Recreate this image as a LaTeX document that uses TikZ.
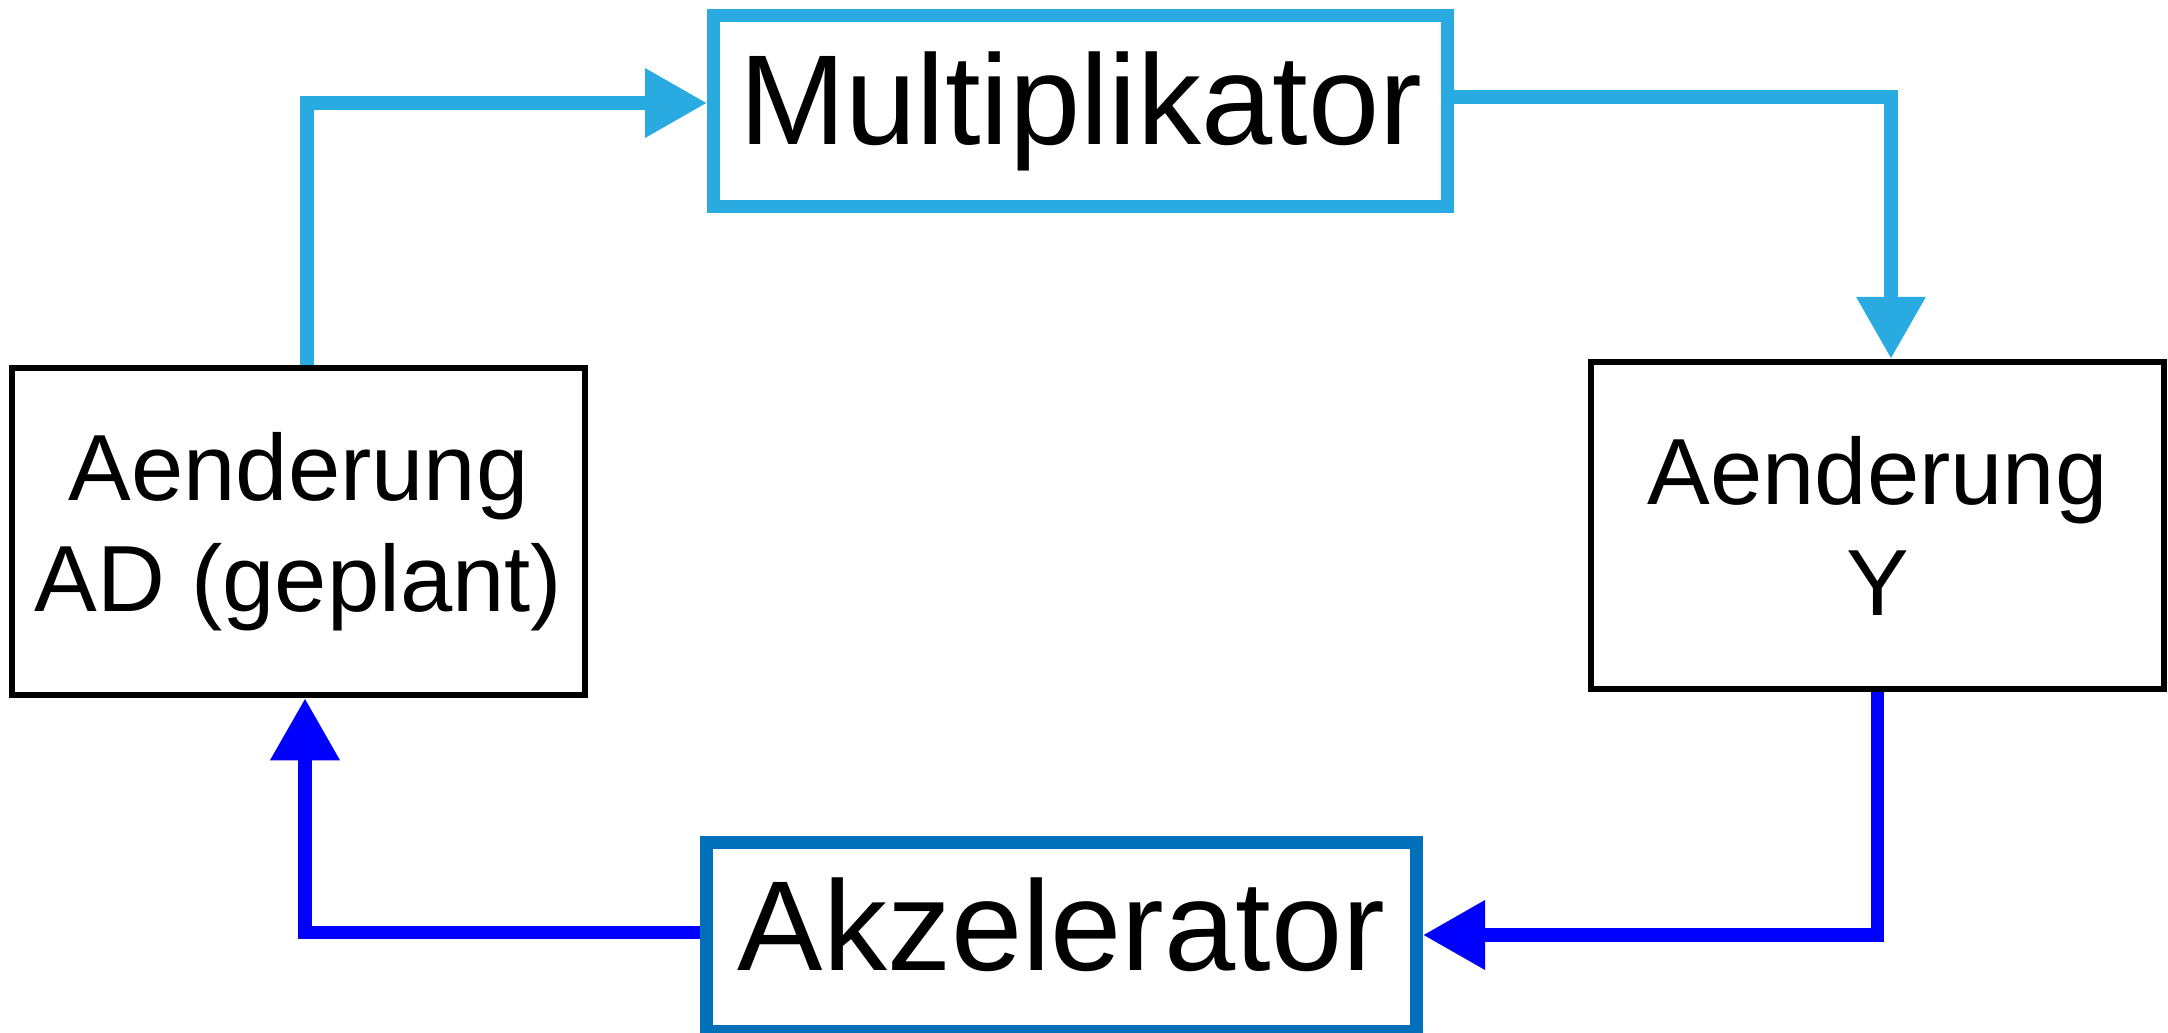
\documentclass[tikz,border=0pt]{standalone}
\usepackage{fontspec}
\setmainfont{Liberation Sans}
\usetikzlibrary{arrows.meta}
\definecolor{hellblau}{RGB}{41,171,226}
\definecolor{mittelblau}{RGB}{0,112,186}
\begin{document}
\begin{tikzpicture}[x=0.5pt,y=-0.5pt,
    kasten/.style={draw,line width=3.25pt,align=center,inner sep=0pt,
        minimum width=286.5pt,minimum height=163.5pt,font=\fontsize{47}{55.5}\selectfont},
    grosskasten/.style={draw,line width=6.5pt,inner sep=0pt,text depth=13pt,
        font=\fontsize{64}{77}\selectfont},
    pfeil/.style={line width=6.75pt,-{Triangle[length=31pt,width=33pt]}}]
  \useasboundingbox (0,0) rectangle (2168,1033);
  \node[grosskasten,draw=hellblau,minimum width=367pt,minimum height=95.5pt] (mult) at (1080.5,111) {Multiplikator};
  \node[grosskasten,draw=mittelblau,minimum width=355pt,minimum height=94.5pt] (akz) at (1061.5,937) {Akzelerator};
  \node[kasten] (ad) at (298.5,531.5) {Aenderung\\AD (geplant)};
  \node[kasten] (y) at (1877.5,525.5) {Aenderung\\Y};
  % Kreislauf
  \draw[pfeil,hellblau] ([xshift=4.25pt]ad.north) |- ([yshift=4pt]mult.west);
  \draw[pfeil,hellblau] ([yshift=7pt]mult.east) -| ([xshift=6.75pt]y.north);
  \draw[pfeil,blue] (y.south) |- ([yshift=1pt]akz.east);
  \draw[pfeil,blue] ([yshift=2.25pt]akz.west) -| ([xshift=3.25pt]ad.south);
\end{tikzpicture}
\end{document}
